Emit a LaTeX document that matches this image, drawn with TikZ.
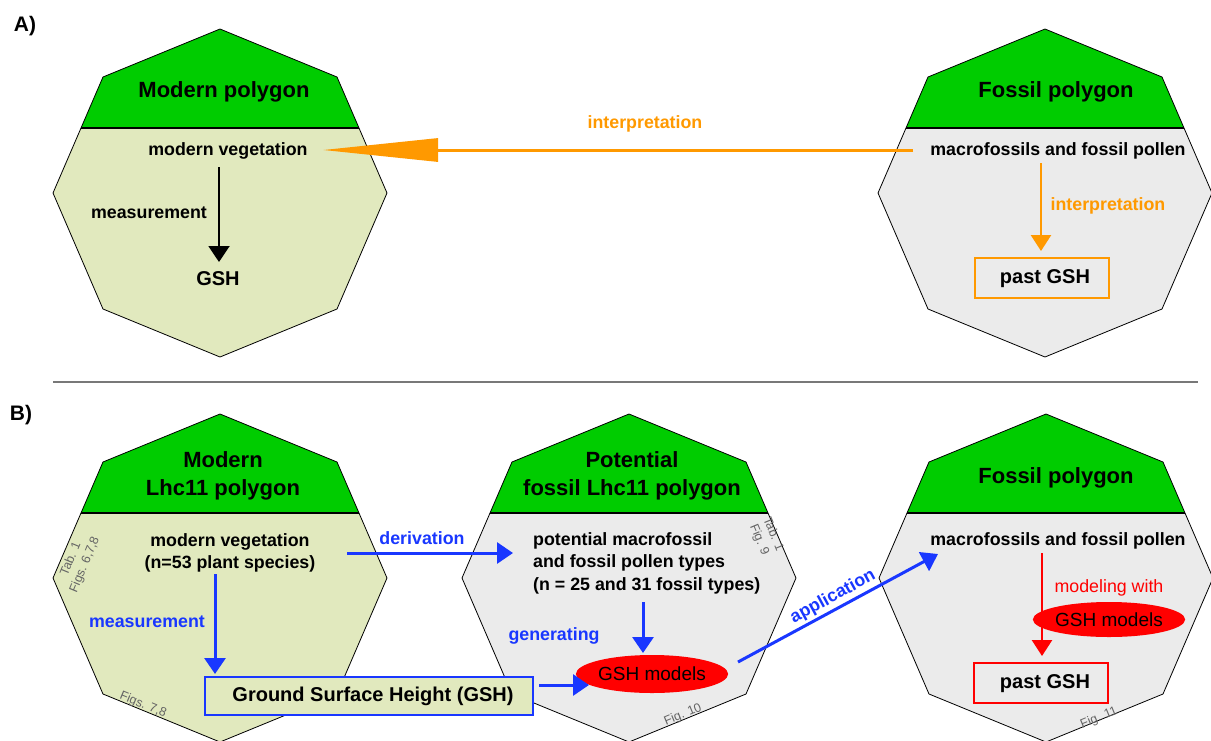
\documentclass[tikz,border=0pt]{standalone}
\usepackage{fontspec}
\setmainfont{Liberation Sans}
\usetikzlibrary{arrows.meta,calc,shapes.geometric}

\definecolor{polgreen}{RGB}{0,204,0}
\definecolor{bodygreen}{RGB}{225,233,190}
\definecolor{bodygrey}{RGB}{235,235,235}
\definecolor{myorange}{RGB}{255,153,0}
\definecolor{myblue}{RGB}{25,55,255}
\definecolor{myred}{RGB}{255,0,0}
\definecolor{notegrey}{RGB}{100,100,100}
\definecolor{sepgrey}{RGB}{120,120,120}

\newcommand\polyshape[3]{%
  \fill[#3] (#1,#2-164) -- (#1+117,#2-116) -- (#1+167,#2) -- (#1+117,#2+116) -- (#1,#2+164) -- (#1-117,#2+116) -- (#1-167,#2) -- (#1-117,#2-116) -- cycle;
  \begin{scope}
    \clip (#1,#2-164) -- (#1+117,#2-116) -- (#1+167,#2) -- (#1+117,#2+116) -- (#1,#2+164) -- (#1-117,#2+116) -- (#1-167,#2) -- (#1-117,#2-116) -- cycle;
    \fill[polgreen] (#1-170,#2-170) rectangle (#1+170,#2-65);
    \draw[line width=1.4pt] (#1-170,#2-65) -- (#1+170,#2-65);
  \end{scope}
  \draw[line width=0.8pt, line join=miter] (#1,#2-164) -- (#1+117,#2-116) -- (#1+167,#2) -- (#1+117,#2+116) -- (#1,#2+164) -- (#1-117,#2+116) -- (#1-167,#2) -- (#1-117,#2-116) -- cycle;
}

\tikzset{
  heading/.style={inner sep=0pt, align=center, font=\fontsize{22}{28}\selectfont\bfseries},
  bodytext/.style={inner sep=0pt, align=center, font=\fontsize{17.8}{22.5}\selectfont\bfseries},
  gshtext/.style={inner sep=0pt, font=\fontsize{20}{24}\selectfont\bfseries},
  notetext/.style={inner sep=0pt, align=center, text=notegrey, font=\fontsize{12.5}{15}\selectfont},
  bluelabel/.style={inner sep=0pt, text=myblue, font=\fontsize{17.8}{22}\selectfont\bfseries},
  orangelabel/.style={inner sep=0pt, text=myorange, font=\fontsize{17.8}{22}\selectfont\bfseries},
  panellabel/.style={inner sep=0pt, font=\fontsize{21}{24}\selectfont\bfseries},
  blackarrow/.style={line width=2pt, -{Triangle[length=16pt,width=21pt]}},
  bluearrow/.style={myblue, line width=3pt, -{Triangle[length=16pt,width=21pt]}},
  orangearrow/.style={myorange, line width=2.6pt, -{Triangle[length=16pt,width=20pt]}},
  bigorange/.style={myorange, line width=3pt, -{Triangle[length=115pt,width=23pt]}},
  redarrow/.style={myred, line width=2.6pt, -{Triangle[length=16pt,width=20pt]}},
  gshmodel/.style={ellipse, fill=myred, inner sep=0pt, minimum width=130pt, minimum height=38pt, font=\fontsize{19}{22}\selectfont},
}

\begin{document}
\begin{tikzpicture}[x=1pt,y=-1pt]
\useasboundingbox (0,0) rectangle (1211,740);

% polygons
\polyshape{220}{193}{bodygreen}
\polyshape{1045}{193}{bodygrey}
\polyshape{220}{578}{bodygreen}
\polyshape{629}{578}{bodygrey}
\polyshape{1046}{578}{bodygrey}

% panel labels and separator
\node[panellabel] (labA) at (25,26) {A)};
\node[panellabel] (labB) at (21,415) {B)};
\draw[sepgrey, line width=1.3pt] (53,382) -- (1198,382);

% ---------------- Panel A ----------------
\node[heading] (modA) at (224,92) {Modern polygon};
\node[bodytext] (mvA) at (228,151) {modern vegetation};
\node[bodytext] (measA) at (149,213) {measurement};
\node[gshtext] (gshA) at (218,279) {GSH};
\coordinate (aS) at (219,167);
\coordinate (aE) at (219,262);
\draw[blackarrow] (aS) -- (aE);

\node[heading] (fosA) at (1056,92) {Fossil polygon};
\node[bodytext] (mfA) at (1058,151) {macrofossils and fossil pollen};
\node[draw=myorange, line width=1.3pt, minimum width=134pt, minimum height=40pt, inner sep=0pt] (pastA) at (1042,278) {};
\node[gshtext] (pastAt) at (1045,279) {past GSH};
\node[orangelabel] (intA2) at (1108,206) {interpretation};
\coordinate (oS) at (1041,163);
\coordinate (oE) at (1041,251);
\draw[orangearrow] (oS) -- (oE);

\node[orangelabel] (intA) at (645,124) {interpretation};
\coordinate (bS) at (913,150);
\coordinate (bE) at (323,150);
\draw[bigorange] (bS) -- (bE);

% ---------------- Panel B ----------------
% left
\node[heading] (modB) at (223,476) {Modern\\Lhc11 polygon};
\node[bodytext] (mvB) at (230,553) {modern vegetation\\(n=53 plant species)};
\node[notetext, rotate=67.5] (noteB1) at (78,562) {Tab. 1\\Figs. 6,7,8};
\node[notetext, rotate=-22.5] (noteB2) at (143,705) {Figs. 7,8};
\node[bluelabel] (measB) at (147,622) {measurement};
\node[draw=myblue, fill=bodygreen, line width=1.3pt, minimum width=328pt, minimum height=38pt, inner sep=0pt] (gshbox) at (369,696) {};
\node[gshtext] (gshboxt) at (373,696) {Ground Surface Height (GSH)};
\coordinate (mS) at (215,574);
\coordinate (mE) at (215,674);
\draw[bluearrow] (mS) -- (mE);

% middle
\node[heading] (potB) at (632,476) {Potential\\fossil Lhc11 polygon};
\node[bodytext, align=left, anchor=west] (pmB) at (533,563) {potential macrofossil\\and fossil pollen types\\(n = 25 and 31 fossil types)};
\node[notetext, rotate=-67.5] (noteB3) at (766,537) {Tab. 1\\Fig. 9};
\node[notetext, rotate=22.5] (noteB4) at (683,715) {Fig. 10};
\node[gshmodel] (gshmB) at (652,674) {GSH models};
\node[bluelabel] (genB) at (554,636) {generating};
\coordinate (gS) at (643,602);
\coordinate (gE) at (643,653);
\draw[bluearrow] (gS) -- (gE);

\node[bluelabel] (derB) at (422,538) {derivation};
\coordinate (dS) at (347,553);
\coordinate (dE) at (513,553);
\draw[bluearrow] (dS) -- (dE);

\coordinate (hS) at (539,685);
\coordinate (hE) at (589,685);
\draw[bluearrow] (hS) -- (hE);

% right
\node[heading] (fosB) at (1056,478) {Fossil polygon};
\node[bodytext] (mfB) at (1058,541) {macrofossils and fossil pollen};
\node[notetext, rotate=22.5] (noteB5) at (1099,718) {Fig. 11};
\node[text=myred, inner sep=0pt, font=\fontsize{17.8}{22}\selectfont] (modw) at (1109,588) {modeling with};
\node[gshmodel, minimum width=128pt, minimum height=35pt] (gshmR) at (1109,619.5) {GSH models};
\node[draw=myred, line width=1.3pt, minimum width=134pt, minimum height=40pt, inner sep=0pt] (pastB) at (1041,683) {};
\node[gshtext] (pastBt) at (1045,684) {past GSH};
\coordinate (rS) at (1042,553);
\coordinate (rE) at (1042,656);
\draw[redarrow] (rS) -- (rE);

% application
\coordinate (pS) at (738,662);
\coordinate (pE) at (938,554);
\draw[bluearrow] (pS) -- (pE);
\node[bluelabel, rotate=28.6] (appB) at (833,597) {application};
\end{tikzpicture}
\end{document}
